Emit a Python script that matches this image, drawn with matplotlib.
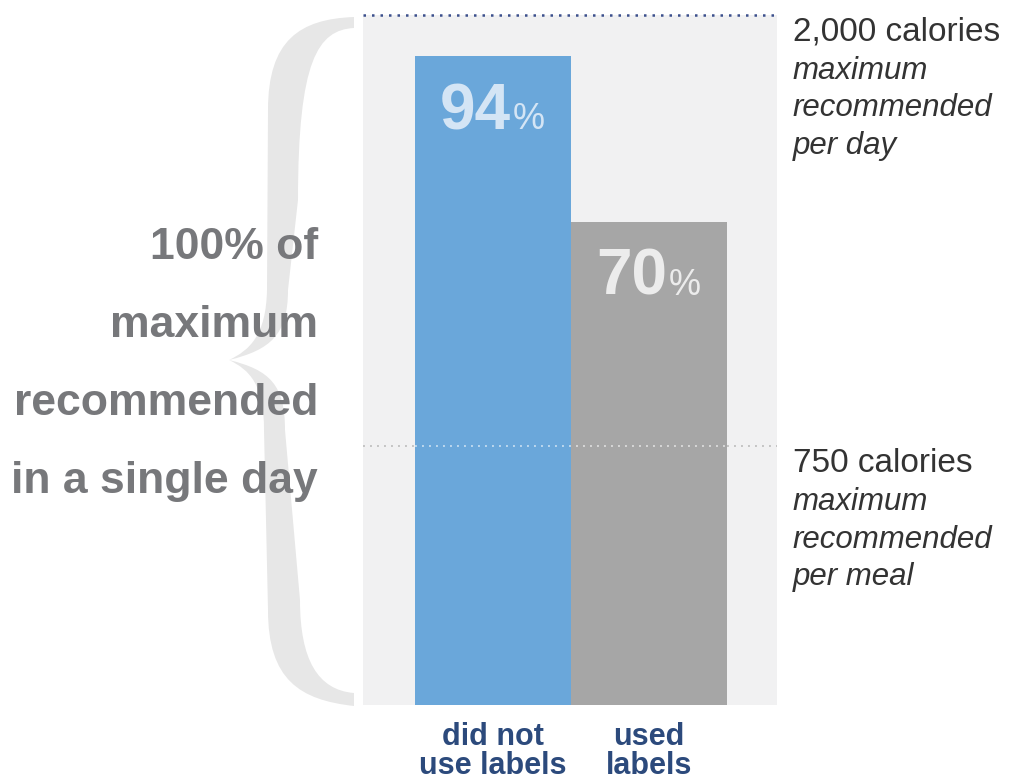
import matplotlib
matplotlib.use("Agg")
from matplotlib import pyplot as plt
from matplotlib.path import Path
from matplotlib.patches import PathPatch

plt.rcParams['font.family'] = ['Liberation Sans', 'DejaVu Sans']

# data
categories = ["did not\nuse labels", "used\nlabels"]
values = [94, 70]                      # % of max recommended per day
bar_colors = ["#6aa7da", "#a6a6a6"]
value_colors = ["#d4e5f5", "#ececec"]
day_max = 2000
meal_max = 750
ref_levels = [100, meal_max / day_max * 100]
ref_texts = [
    ["2,000 calories", "maximum", "recommended", "per day"],
    ["750 calories", "maximum", "recommended", "per meal"],
]
side_text = ["100% of", "maximum", "recommended", "in a single day"]

W, H = 1011, 782
fig = plt.figure(figsize=(W / 100, H / 100), dpi=100)

# background layer in pixel coords: brace + side text
bg = fig.add_axes([0, 0, 1, 1], zorder=0)
bg.set_xlim(0, W)
bg.set_ylim(H, 0)
bg.axis("off")

M, C, L = Path.MOVETO, Path.CURVE4, Path.LINETO
verts = [
    (354, 17),
    (300, 19), (268, 40), (268, 110),
    (267, 290),
    (266, 335), (250, 350), (229, 360),
    (250, 370), (264, 385), (264, 430),
    (268, 610),
    (268, 680), (300, 700), (354, 706),
    (354, 693),
    (318, 690), (300, 660), (300, 600),
    (285, 430),
    (285, 385), (270, 370), (229, 360),
    (270, 350), (288, 335), (288, 290),
    (298, 200),
    (298, 60), (318, 30), (354, 28),
    (354, 17),
]
codes = [M, C, C, C, L, C, C, C, C, C, C, L, C, C, C, L,
         C, C, C, L, C, C, C, C, C, C, L, C, C, C, Path.CLOSEPOLY]
bg.add_patch(PathPatch(Path(verts, codes), facecolor="#e7e7e7", edgecolor="none"))

for i, line in enumerate(side_text):
    bg.text(318, 259 + i * 78, line, ha="right", va="baseline",
            fontsize=32, fontweight="bold", color="#77787b")

# main chart
ax = fig.add_axes([363 / W, (H - 705) / H, (777 - 363) / W, (705 - 15) / H], zorder=1)
ax.set_facecolor("#f1f1f2")
x = list(range(len(values)))
ax.bar(x, values, width=1.0, color=bar_colors, zorder=2)
ax.set_xlim(-0.5 - 52 / 156, len(values) - 0.5 + 50 / 156)
ax.set_ylim(0, 100)

for xi, v, c in zip(x, values, value_colors):
    ax.annotate(str(v), (xi, v), xytext=(13, -52.5), textcoords="offset points",
                ha="right", va="baseline", fontsize=46, fontweight="bold", color=c, zorder=4)
    ax.annotate("%", (xi, v), xytext=(14.5, -52.5), textcoords="offset points",
                ha="left", va="baseline", fontsize=26, color=c, zorder=4)

# reference lines
ax.axhline(ref_levels[0], color="#3b4f8c", lw=1.8, linestyle=(0, (1, 2.4)), clip_on=False, zorder=3)
ax.axhline(ref_levels[1], color="#c4c4c4", lw=1.4, linestyle=(0, (1, 2.6)), zorder=1)
ax.hlines(ref_levels[1], x[0] - 0.5, x[-1] + 0.5, color="white", alpha=0.55, lw=1.4,
          linestyle=(0, (1, 2.6)), zorder=3)

offsets = [-18.5, -46, -73, -100]
for lvl, lines in zip(ref_levels, ref_texts):
    for j, (t, dy) in enumerate(zip(lines, offsets)):
        ax.annotate(t, (1.0, lvl), xycoords=("axes fraction", "data"),
                    xytext=(11.5, dy), textcoords="offset points",
                    ha="left", va="baseline", fontsize=24 if j == 0 else 22.5,
                    fontstyle="normal" if j == 0 else "italic",
                    color="#333333", annotation_clip=False)

ax.set_xticks(x)
ax.set_xticklabels(categories, fontsize=22, fontweight="bold", color="#2c4a7c", linespacing=0.95)
ax.tick_params(axis="x", length=0, pad=12.5)
ax.set_yticks([])
for s in ax.spines.values():
    s.set_visible(False)

fig.savefig("out.png", dpi=100, facecolor="white")
